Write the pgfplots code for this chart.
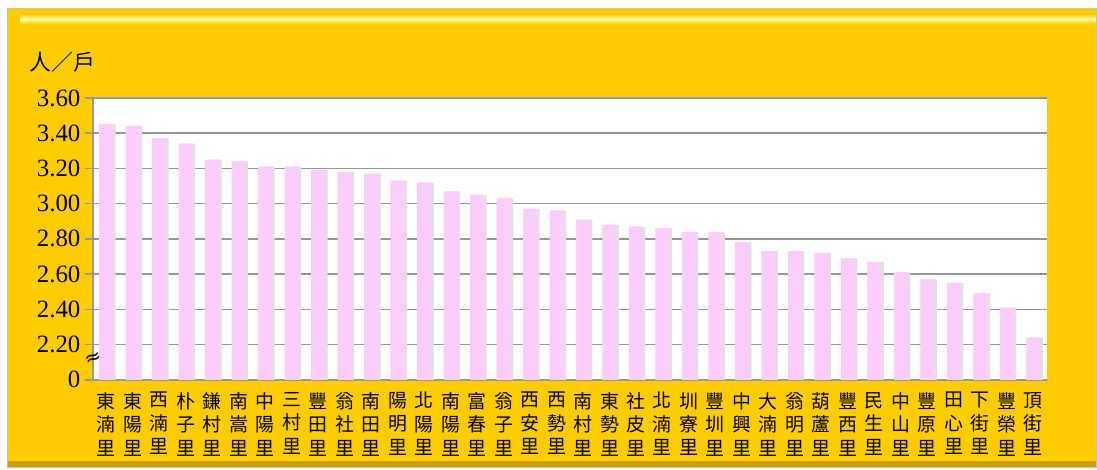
\documentclass[border=0pt]{standalone}
\usepackage{pgfplots}
\pgfplotsset{compat=1.18}
\usepackage{fontspec}
\setmainfont{Liberation Serif}
\newfontfamily\cjk{Noto Sans CJK TC}
\newfontfamily\sym{DejaVu Sans}
\definecolor{gold}{RGB}{255,204,0}
\definecolor{golddark}{RGB}{205,160,0}
\definecolor{barpink}{RGB}{252,204,255}
\definecolor{gridgray}{RGB}{150,150,150}

\pgfplotstableread{
x v
0 3.45
1 3.44
2 3.37
3 3.34
4 3.25
5 3.24
6 3.21
7 3.21
8 3.19
9 3.18
10 3.17
11 3.13
12 3.12
13 3.07
14 3.05
15 3.03
16 2.97
17 2.96
18 2.91
19 2.88
20 2.87
21 2.86
22 2.84
23 2.84
24 2.78
25 2.73
26 2.73
27 2.72
28 2.69
29 2.67
30 2.61
31 2.57
32 2.55
33 2.49
34 2.41
35 2.24
}\hh

\begin{document}
\begin{tikzpicture}[x=1bp,y=1bp]
% frame
\fill[white] (0,0) rectangle (1097,470);
\fill[gold] (8,2) rectangle (1097,461);
\shade[top color=gold, bottom color=gold, middle color=yellow!35] (20,446) rectangle (1097,456);
\fill[golddark] (8,2) rectangle (1097,9);
\draw[black!25, line width=1pt] (8,2) rectangle (1097,461);
\node[font=\cjk\fontsize{22}{24}\selectfont, anchor=west] at (26,408) {人／戶};
\begin{axis}[
  at={(93bp,90bp)}, anchor=south west,
  width=954bp, height=282bp, scale only axis,
  axis background/.style={fill=white},
  ymin=2.0, ymax=3.6,
  xmin=-0.5, xmax=35.5,
  ytick={2.0,2.2,2.4,2.6,2.8,3.0,3.2,3.4,3.6},
  yticklabels={0,2.20,2.40,2.60,2.80,3.00,3.20,3.40,3.60},
  ymajorgrids, grid style={gridgray, line width=1.5pt},
  axis x line*=bottom, axis y line*=left,
  axis line style={gridgray, line width=1.5pt},
  every tick/.style={gridgray, line width=1.5pt},
  major tick length=8bp,
  ytick style={gridgray}, tick align=outside,
  xtick={0,...,35}, xtick style={draw=none},
  minor xtick={-0.5,0.5,...,35.5},
  minor tick length=8bp,
  minor x tick style={gridgray, line width=1.5pt},
  xticklabels={
    {東\\湳\\里},{東\\陽\\里},{西\\湳\\里},{朴\\子\\里},{鎌\\村\\里},{南\\嵩\\里},
    {中\\陽\\里},{三\\村\\里},{豐\\田\\里},{翁\\社\\里},{南\\田\\里},{陽\\明\\里},
    {北\\陽\\里},{南\\陽\\里},{富\\春\\里},{翁\\子\\里},{西\\安\\里},{西\\勢\\里},
    {南\\村\\里},{東\\勢\\里},{社\\皮\\里},{北\\湳\\里},{圳\\寮\\里},{豐\\圳\\里},
    {中\\興\\里},{大\\湳\\里},{翁\\明\\里},{葫\\蘆\\里},{豐\\西\\里},{民\\生\\里},
    {中\\山\\里},{豐\\原\\里},{田\\心\\里},{下\\街\\里},{豐\\榮\\里},{頂\\街\\里}},
  xticklabel style={font=\cjk\fontsize{19}{23.5}\selectfont, align=center, text=black, yshift=-1bp},
  yticklabel style={font=\fontsize{25}{27}\selectfont, text=black, xshift=-1bp},
  /pgf/number format/assume math mode=true,
  clip=false,
]
\addplot[ybar, bar width=14bp, bar shift=2.5bp, fill=black!12, draw=none] table[x=x,y=v] {\hh};
\addplot[ybar, bar width=14bp, bar shift=0bp, fill=barpink, draw=none] table[x=x,y=v] {\hh};
\node[font=\sym\fontsize{20}{22}\selectfont, rotate=20, inner sep=0pt] at ([xshift=1bp]rel axis cs:0,0.075) {≈};
\end{axis}
\end{tikzpicture}
\end{document}
